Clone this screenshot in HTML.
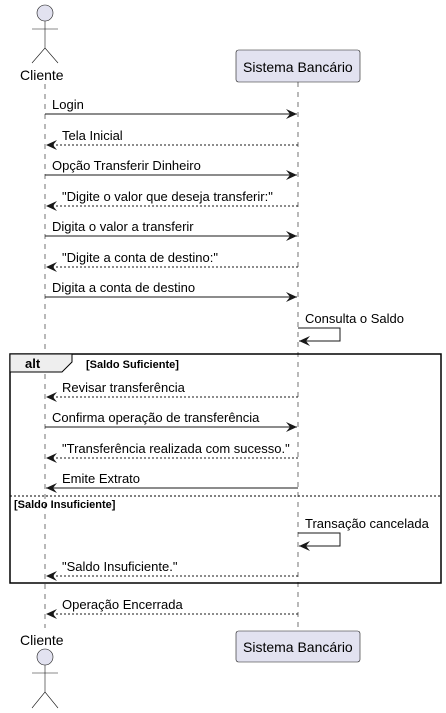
<!DOCTYPE html>
<html><head><style>body{margin:0;background:#fff}svg{display:block}text{font-family:"Liberation Sans",sans-serif}</style></head><body>
<svg width="446" height="713" xmlns="http://www.w3.org/2000/svg">
<defs>
<marker id="a" markerWidth="12" markerHeight="10" refX="11" refY="5" orient="auto" markerUnits="userSpaceOnUse"><path d="M0,0 L11,5 L0,10 L4,5 Z" fill="#181818"/></marker>
</defs>
<g stroke="#181818" stroke-width="0.6" stroke-dasharray="5,5">
<line x1="45" y1="84" x2="45" y2="628"/>
<line x1="298" y1="82" x2="298" y2="628"/>
</g>
<g fill="#E2E2F0" stroke="#181818" stroke-width="0.6">
<circle cx="45" cy="13" r="8"/>
<circle cx="45" cy="657" r="8"/>
<rect x="236" y="50" width="124" height="32" rx="2.5"/>
<rect x="236" y="631" width="124" height="31" rx="2.5"/>
</g>
<g stroke="#181818" stroke-width="0.6" fill="none">
<path d="M45,21 V48 M32,29 H58 M32,63 L45,48 L58,63"/>
<path d="M45,665 V692 M32,673 H58 M32,708 L45,692 L58,708"/>
</g>
<g font-size="14" fill="#000">
<text x="20" y="80">Cliente</text>
<text x="20" y="645">Cliente</text>
<text x="243" y="72">Sistema Bancário</text>
<text x="243" y="652">Sistema Bancário</text>
</g>
<rect x="10" y="354" width="431" height="229" fill="none" stroke="#000" stroke-width="1.5"/>
<path d="M10,354 H72 V362 L62,372 H10 Z" fill="#EEEEEE" stroke="#000" stroke-width="1"/>
<text x="25" y="368" font-size="13" font-weight="bold">alt</text>
<text x="86" y="368" font-size="11" font-weight="bold">[Saldo Suficiente]</text>
<line x1="10" y1="496" x2="441" y2="496" stroke="#000" stroke-width="1" stroke-dasharray="2,2"/>
<text x="14" y="508" font-size="11" font-weight="bold">[Saldo Insuficiente]</text>
<g stroke="#181818" stroke-width="1" fill="none" marker-end="url(#a)">
<line x1="45" y1="114" x2="297" y2="114"/>
<line x1="298" y1="145" x2="46" y2="145" stroke-dasharray="2,2"/>
<line x1="45" y1="175" x2="297" y2="175"/>
<line x1="298" y1="206" x2="46" y2="206" stroke-dasharray="2,2"/>
<line x1="45" y1="236" x2="297" y2="236"/>
<line x1="298" y1="267" x2="46" y2="267" stroke-dasharray="2,2"/>
<line x1="45" y1="297" x2="297" y2="297"/>
<path d="M298,328 H340 V341 H299"/>
<line x1="298" y1="397" x2="46" y2="397" stroke-dasharray="2,2"/>
<line x1="45" y1="427" x2="297" y2="427"/>
<line x1="298" y1="458" x2="46" y2="458" stroke-dasharray="2,2"/>
<line x1="298" y1="488" x2="46" y2="488"/>
<path d="M298,533 H340 V546 H299"/>
<line x1="298" y1="576" x2="46" y2="576" stroke-dasharray="2,2"/>
<line x1="298" y1="614" x2="46" y2="614" stroke-dasharray="2,2"/>
</g>
<g font-size="13" fill="#000">
<text x="52" y="109">Login</text>
<text x="62" y="140">Tela Inicial</text>
<text x="52" y="170">Opção Transferir Dinheiro</text>
<text x="62" y="201">"Digite o valor que deseja transferir:"</text>
<text x="52" y="231">Digita o valor a transferir</text>
<text x="62" y="262">"Digite a conta de destino:"</text>
<text x="52" y="292">Digita a conta de destino</text>
<text x="305" y="323">Consulta o Saldo</text>
<text x="62" y="392">Revisar transferência</text>
<text x="52" y="422">Confirma operação de transferência</text>
<text x="62" y="453">"Transferência realizada com sucesso."</text>
<text x="62" y="483">Emite Extrato</text>
<text x="305" y="528">Transação cancelada</text>
<text x="62" y="571">"Saldo Insuficiente."</text>
<text x="62" y="609">Operação Encerrada</text>
</g>
</svg>
</body></html>
